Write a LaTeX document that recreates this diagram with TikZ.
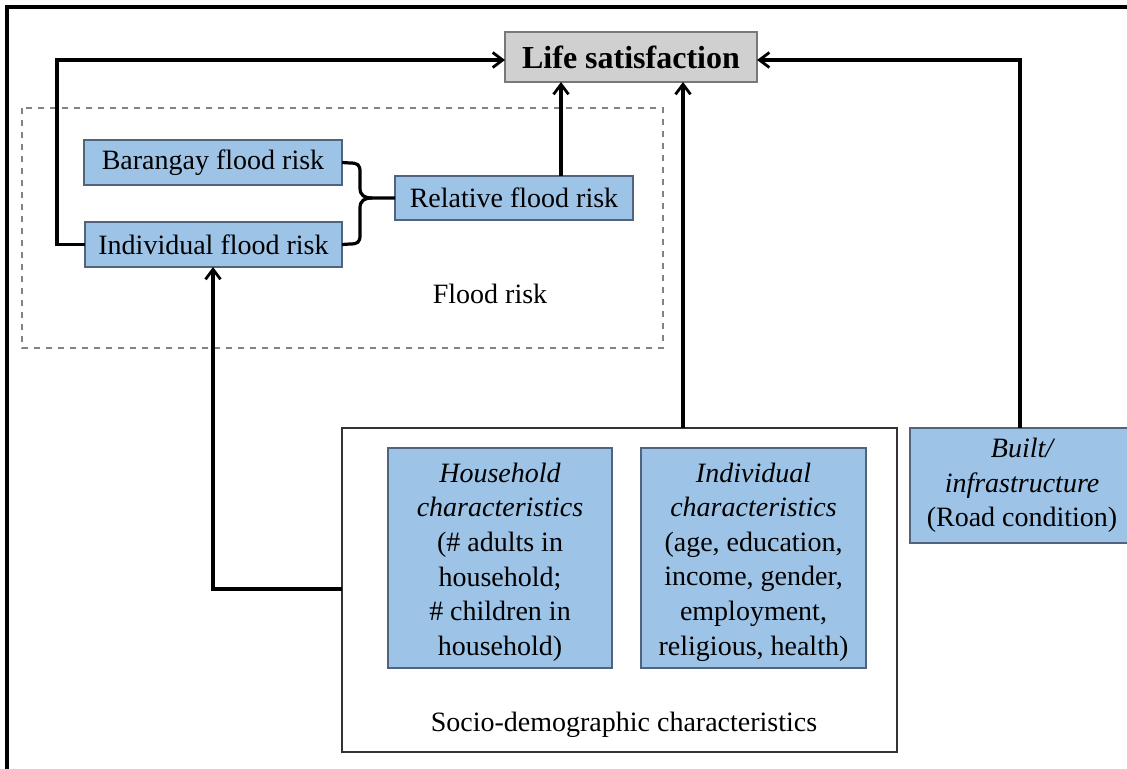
\documentclass[tikz,border=0pt]{standalone}
\usepackage{fontspec}
\setmainfont{Liberation Serif}
\usetikzlibrary{arrows.meta}
\definecolor{boxblue}{RGB}{157,195,230}
\definecolor{boxedge}{RGB}{80,100,125}
\definecolor{lifegray}{RGB}{208,208,208}
\definecolor{lifeedge}{RGB}{120,120,120}
\definecolor{dashgray}{RGB}{130,130,130}
\tikzset{
  bluebox/.style={draw=boxedge, fill=boxblue, line width=0.7pt, inner sep=0pt, outer sep=0pt,
    align=center, font=\fontsize{14}{17.3}\selectfont},
  lifebox/.style={draw=lifeedge, fill=lifegray, line width=0.7pt, inner sep=0pt, outer sep=0pt,
    font=\fontsize{16}{19}\selectfont\bfseries},
  groupbox/.style={draw=black!80, line width=0.6pt, inner sep=0pt, outer sep=0pt},
  flowline/.style={line width=1.6pt},
  flowarrow/.style={line width=1.6pt, -{Straight Barb[length=5pt,width=7.5pt,line width=1.4pt]}},
  caption/.style={font=\fontsize{14}{17}\selectfont, inner sep=0pt}
}
\begin{document}
\begin{tikzpicture}[x=0.5pt,y=-0.5pt]
  \useasboundingbox (0,0) rectangle (1127,769);
  % page frame (only top and left edges fall inside the picture)
  \draw[line width=1.6pt] (7,790) -- (7,7) -- (1150,7);

  % flood risk group
  \draw[dashgray, dashed, line width=0.6pt] (22,108) rectangle (663,348);
  \node[caption] (floodlbl) at (490,294) {Flood risk};

  % outcome
  \node[lifebox, minimum width=126pt, minimum height=25pt] (life) at (631,57) {Life satisfaction};

  % flood risk measures
  \node[bluebox, minimum width=129pt, minimum height=22.5pt] (bar) at (213,162.5) {Barangay flood risk};
  \node[bluebox, minimum width=128.5pt, minimum height=22.5pt] (ind) at (213.5,244.5) {Individual flood risk};
  \node[bluebox, minimum width=119pt, minimum height=22pt] (rel) at (514,198) {Relative flood risk};

  % socio-demographic group
  \node[groupbox, minimum width=277.5pt, minimum height=162pt] (socio) at (619.5,590) {};
  \node[caption] (sociolbl) at (624,725) {Socio-demographic characteristics};
  \node[bluebox, minimum width=112pt, minimum height=110pt] (hh) at (500,558) {};
  \node[align=center, font=\fontsize{14}{17.3}\selectfont, inner sep=0pt] (hhtext) at (500,562)
    {\itshape Household\\ \itshape characteristics\\ (\# adults in\\ household;\\ \# children in\\ household)};
  \node[bluebox, minimum width=112.5pt, minimum height=110pt] (ic) at (753.5,558) {};
  \node[align=center, font=\fontsize{14}{17.3}\selectfont, inner sep=0pt] (ictext) at (753.5,562)
    {\itshape Individual\\ \itshape characteristics\\ (age, education,\\ income, gender,\\ employment,\\ religious, health)};

  % built environment
  \node[bluebox, minimum width=112pt, minimum height=57.5pt] (built) at (1022,485.5)
    {\itshape Built/\\ \itshape infrastructure\\ (Road condition)};

  % brace joining the two flood risk measures
  \coordinate (tip) at (372,198);
  \draw[flowline] (bar.east) -- (350,163) .. controls (358,163) and (360,165) .. (360,172)
    -- (360,188) .. controls (360,195) and (364,198) .. (tip) -- (rel.west);
  \draw[flowline] (ind.east) -- (350,244) .. controls (358,244) and (360,242) .. (360,235)
    -- (360,208) .. controls (360,201) and (364,198) .. (tip);

  % paths into life satisfaction
  \draw[flowarrow] (ind.west) -- (57,244.5) -- (57,60) -- (life.west |- 0,60);
  \draw[flowarrow] (rel.north -| 561,0) -- (561,82);
  \draw[flowarrow] (socio.north -| 683,0) -- (683,82);
  \draw[flowarrow] (built.north -| 1020,0) -- (1020,60) -- (life.east |- 0,60);

  % socio-demographics into individual flood risk
  \draw[flowarrow] (socio.west |- 0,589) -- (213,589) -- (213,267);
\end{tikzpicture}
\end{document}
